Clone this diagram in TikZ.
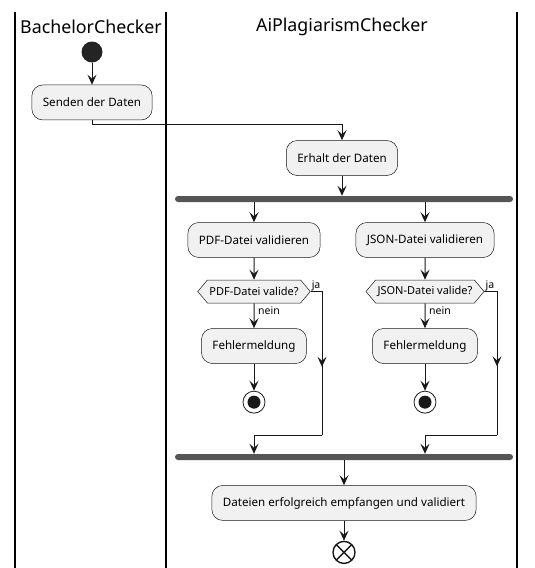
\documentclass[tikz,border=0pt]{standalone}
\usepackage{fontspec}
\setmainfont{Noto Sans}
\usetikzlibrary{arrows.meta}
\usetikzlibrary{positioning}
\usetikzlibrary{shapes.symbols}
\usetikzlibrary{decorations.markings}
\definecolor{actfill}{HTML}{F1F1F1}
\definecolor{actline}{HTML}{181818}
\definecolor{barfill}{HTML}{555555}
\tikzset{
  % style to put an arrow head somewhere along a path
  mid arrow/.style={
    postaction={
      decorate,
      decoration={
        markings,
        mark=at position #1 with {\arrow{>}}
      }
    }
  }
}
\tikzset {
  flow path/.style = {
    draw = actline,
    line width = 1pt
  },
  % path style with an arrow at its end
  arr/.style = {
    flow path,
    ->
  },
  % path style with no arrows
  narr/.style = {
    flow path
  },
  lane/.style = {
    draw = black,
    line width = 1.4pt
  }
}
\tikzset {
  flow node/.style = {
    draw = actline,
    line width = 0.5pt,
    fill = actfill
  },
  % activity
  action/.style = {
    flow node,
    rectangle,
    rounded corners = 11pt,
    minimum height = 35pt,
    inner xsep = 11pt,
    font = \fontsize{11.6}{13}\selectfont
  },
  % decision
  decision/.style = {
    flow node,
    signal,
    signal to = east and west,
    signal pointer angle = 100,
    minimum height = 23pt,
    inner xsep = 2pt,
    font = \fontsize{11}{12}\selectfont
  },
  guard/.style = {
    inner sep = 0,
    font = \fontsize{10.5}{12}\selectfont
  },
  title/.style = {
    inner sep = 0,
    font = \fontsize{17.8}{20}\selectfont
  },
  % support nodes
  startdot/.style = {
    circle,
    fill = actline!95,
    minimum size = 21pt,
    inner sep = 0
  },
  stopdot/.style = {
    circle,
    draw = actline,
    line width = 0.8pt,
    minimum size = 22pt,
    inner sep = 0,
    path picture = {
      \fill[actline] (path picture bounding box.center) circle (6.5pt);
    }
  },
  enddot/.style = {
    circle,
    draw = actline,
    line width = 1.4pt,
    minimum size = 22pt,
    inner sep = 0,
    path picture = {
      \draw[actline, line width = 1.4pt]
        ([shift={(-8pt,-8pt)}]path picture bounding box.center)
        -- ([shift={(8pt,8pt)}]path picture bounding box.center)
        ([shift={(-8pt,8pt)}]path picture bounding box.center)
        -- ([shift={(8pt,-8pt)}]path picture bounding box.center);
    }
  },
  forkbar/.style = {
    rectangle,
    fill = barfill,
    rounded corners = 3pt,
    minimum width = 338pt,
    minimum height = 6pt,
    inner sep = 0
  },
  >={Stealth[length=10pt, width=9pt, inset=4pt]}
}

\begin{document}
\begin{tikzpicture}[x=1pt, y=-1pt]
  \useasboundingbox (0,0) rectangle (535,568);

  % swimlanes
  \draw[lane] (15,12) -- (15,568);
  \draw[lane] (166,12) -- (166,568);
  \draw[lane] (517,12) -- (517,568);
  \node[title] (bachelor) at (91,27) {BachelorChecker};
  \node[title] (plagiarism) at (342,27) {AiPlagiarismChecker};

  \node[startdot] (start) at (92,52) {};
  \node[action] (send) [below=22pt of start] {Senden der Daten};
  \coordinate (send-turn) at (92,124);
  \node[action] (receive) at (342,158) {Erhalt der Daten};
  \node[forkbar] (fork) at (344,199) {};

  \node[action] (pdfcheck) at (254,240) {PDF-Datei validieren};
  \node[decision] (pdfok) [below=22pt of pdfcheck] {PDF-Datei valide?};
  \node[action] (pdferr) [below=25pt of pdfok] {Fehlermeldung};
  \node[stopdot] (pdfstop) [below=27pt of pdferr] {};
  \coordinate (pdf-bend) at (322,435);

  \node[action] (jsoncheck) at (425,240) {JSON-Datei validieren};
  \node[decision] (jsonok) [below=22pt of jsoncheck] {JSON-Datei valide?};
  \node[action] (jsonerr) [below=25pt of jsonok] {Fehlermeldung};
  \node[stopdot] (jsonstop) [below=27pt of jsonerr] {};
  \coordinate (json-bend) at (497,435);

  \node[forkbar] (join) at (344,457) {};
  \node[action] (done) [below=25pt of join] {Dateien erfolgreich empfangen und validiert};
  \node[enddot] (end) [below=20pt of done] {};

  \node[guard, anchor=south west] (pdf-yes) at ([xshift=1pt]pdfok.east) {ja};
  \node[guard, anchor=west] (pdf-no) at ([xshift=4pt, yshift=-7pt]pdfok.south) {nein};
  \node[guard, anchor=south west] (json-yes) at ([xshift=1pt]jsonok.east) {ja};
  \node[guard, anchor=west] (json-no) at ([xshift=4pt, yshift=-7pt]jsonok.south) {nein};

  \draw[arr] (start) -- (send);
  \draw[narr] (send) -- (send-turn);
  \draw[arr] (send-turn) -| (receive);
  \draw[arr] (receive) -- (receive |- fork.north);

  \draw[arr] (pdfcheck |- fork.south) -- (pdfcheck);
  \draw[arr] (pdfcheck) -- (pdfok);
  \draw[arr] (pdfok) -- (pdferr);
  \draw[arr] (pdferr) -- (pdfstop);
  \draw[narr, mid arrow = 0.56] (pdfok.east) -| (pdf-bend);
  \draw[arr] (pdf-bend) -| (pdfcheck |- join.north);

  \draw[arr] (jsoncheck |- fork.south) -- (jsoncheck);
  \draw[arr] (jsoncheck) -- (jsonok);
  \draw[arr] (jsonok) -- (jsonerr);
  \draw[arr] (jsonerr) -- (jsonstop);
  \draw[narr, mid arrow = 0.56] (jsonok.east) -| (json-bend);
  \draw[arr] (json-bend) -| (jsoncheck |- join.north);

  \draw[arr] (join) -- (done);
  \draw[arr] (done) -- (end);
\end{tikzpicture}
\end{document}
